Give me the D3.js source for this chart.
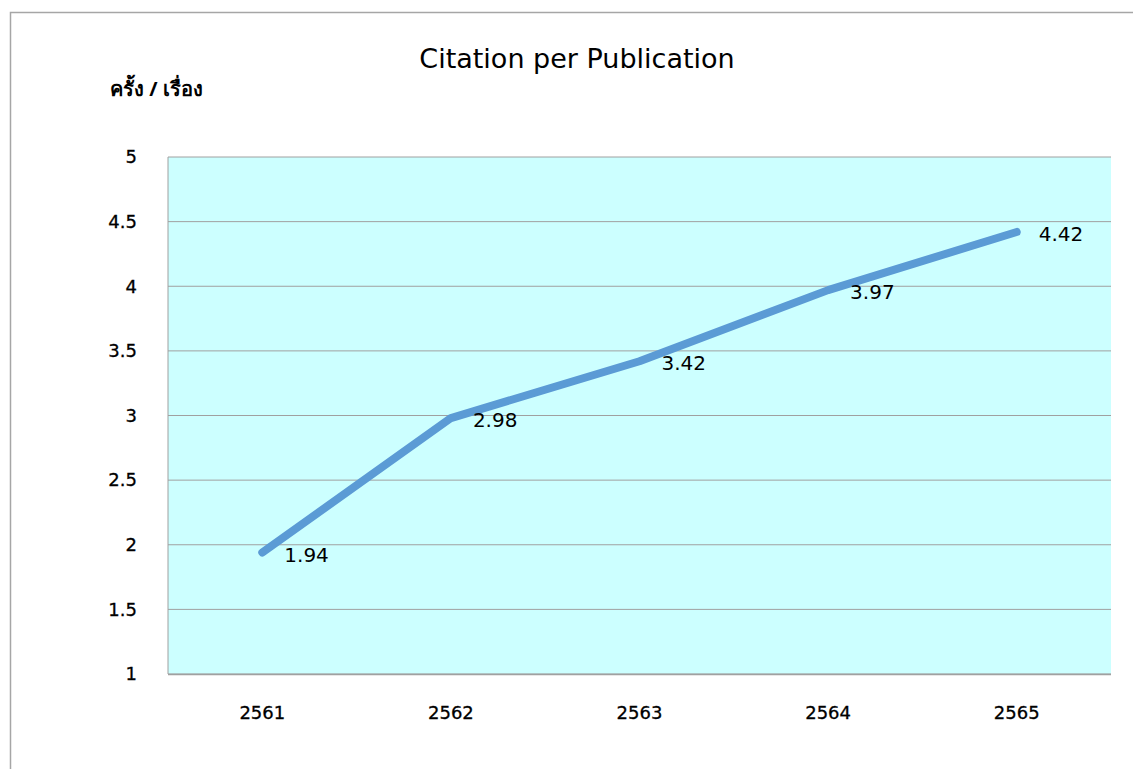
<!DOCTYPE html>
<html>
<head>
<meta charset="utf-8">
<script src="https://cdn.jsdelivr.net/npm/d3@7"></script>
<style>
  body { margin: 0; background: #fff; }
  svg { display: block; font-family: "DejaVu Sans", "Noto Sans", sans-serif; }
</style>
</head>
<body>
<svg id="chart" width="1133" height="769"></svg>
<script>
const years = ["2561", "2562", "2563", "2564", "2565"]
const citations = [1.94, 2.98, 3.42, 3.97, 4.42]
const yTicks = [1, 1.5, 2, 2.5, 3, 3.5, 4, 4.5, 5]

const svg = d3.select("#chart")
const margin = {top: 157, right: 22, bottom: 95, left: 168}
const width = 1133
const height = 769
const font = "\"DejaVu Sans\", sans-serif"

// outer chart frame, runs off the right and bottom of the page
svg.append("rect")
  .attr("x", 10.5).attr("y", 12.5)
  .attr("width", 1140).attr("height", 780)
  .attr("fill", "#fff")
  .attr("stroke", "#a6a6a6")
  .attr("stroke-width", 1.5)

const x = d3.scaleBand()
  .domain(years)
  .range([margin.left, width - margin.right])

const y = d3.scaleLinear()
  .domain([1, 5])
  .range([height - margin.bottom, margin.top])

// plot area
svg.append("rect")
  .attr("x", margin.left).attr("y", margin.top)
  .attr("width", width - margin.right - margin.left)
  .attr("height", height - margin.bottom - margin.top)
  .attr("fill", "#ccffff")

// gridlines
svg.append("g")
  .selectAll("line")
  .data(yTicks)
  .enter()
  .append("line")
  .attr("x1", margin.left).attr("x2", width - margin.right)
  .attr("y1", d => y(d)).attr("y2", d => y(d))
  .attr("stroke", "#a0a0a0")
  .attr("stroke-width", 1)

// left and bottom axis lines
svg.append("line")
  .attr("x1", margin.left).attr("x2", margin.left)
  .attr("y1", margin.top).attr("y2", height - margin.bottom)
  .attr("stroke", "#a0a0a0")
svg.append("line")
  .attr("x1", margin.left).attr("x2", width - margin.right)
  .attr("y1", height - margin.bottom + 0.5).attr("y2", height - margin.bottom + 0.5)
  .attr("stroke", "#a0a0a0")
  .attr("stroke-width", 1.5)

// y axis labels
const yAxis = svg.append("g")
  .attr("transform", `translate(${margin.left - 31}, 0)`)
  .call(d3.axisLeft(y).tickValues(yTicks).tickSize(0).tickPadding(0).tickFormat(d3.format("")))
yAxis.select(".domain").remove()
yAxis.attr("font-size", 18).attr("font-family", font)
yAxis.selectAll("text").attr("fill", "#000").attr("stroke", "#000").attr("stroke-width", 0.3)

// x axis labels
const xAxis = svg.append("g")
  .attr("transform", `translate(0, ${height - margin.bottom})`)
  .call(d3.axisBottom(x).tickSize(0).tickPadding(32))
xAxis.select(".domain").remove()
xAxis.attr("font-size", 18).attr("font-family", font)
xAxis.selectAll("text").attr("fill", "#000").attr("stroke", "#000").attr("stroke-width", 0.3)

const line = d3.line()
  .x((d, i) => x(years[i]) + x.bandwidth() / 2)
  .y(d => y(d))

svg.append("path")
  .datum(citations)
  .attr("d", line)
  .attr("fill", "none")
  .attr("stroke", "#5b9bd5")
  .attr("stroke-width", 8)
  .attr("stroke-linecap", "round")
  .attr("stroke-linejoin", "round")

svg.selectAll(".value-label")
  .data(citations)
  .enter()
  .append("text")
  .attr("class", "value-label")
  .attr("x", (d, i) => x(years[i]) + x.bandwidth() / 2 + 22)
  .attr("y", d => y(d) + 9)
  .attr("font-size", 20)
  .attr("font-family", font)
  .attr("fill", "#000")
  .text(d => d.toFixed(2))

svg.append("text")
  .attr("x", 577).attr("y", 68)
  .attr("text-anchor", "middle")
  .attr("font-size", 27)
  .attr("font-family", font)
  .attr("fill", "#000")
  .text("Citation per Publication")

svg.append("text")
  .attr("x", 110).attr("y", 96)
  .attr("font-size", 20)
  .attr("font-weight", "bold")
  .attr("font-family", "\"Noto Sans\", sans-serif")
  .attr("fill", "#000")
  .text("ครั้ง / เรื่อง")
</script>
</body>
</html>
